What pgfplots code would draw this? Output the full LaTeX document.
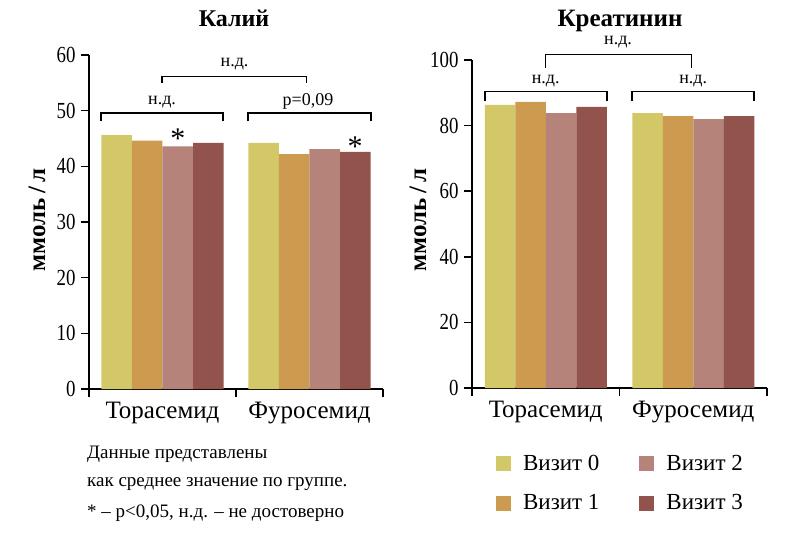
\documentclass[border=0pt]{standalone}
\usepackage{fontspec}
\setmainfont{Liberation Serif}
\newfontfamily\condfont[FakeStretch=0.82]{Liberation Serif}
\usepackage{pgfplots}
\pgfplotsset{compat=1.18}
\definecolor{v0}{RGB}{211,200,104}
\definecolor{v1}{RGB}{205,155,80}
\definecolor{v2}{RGB}{181,131,122}
\definecolor{v3}{RGB}{145,83,75}
\pgfplotsset{
  mybar/.style={
    scale only axis, ybar=0pt, bar width=30.5pt,
    xmin=0, xmax=2, ymin=0, clip=false,
    axis x line*=bottom, axis y line*=left,
    axis line style={line width=1.6pt, black},
    major tick style={line width=1.6pt, black},
    tick align=outside, major tick length=8pt,
    xtick={0,1,2}, xticklabels={},
    extra x ticks={0.5,1.5},
    extra x tick labels={Торасемид,Фуросемид},
    extra x tick style={major tick length=0pt,
      tick label style={font=\fontsize{25}{25}\selectfont, yshift=-10pt}},
    yticklabel style={font=\condfont\fontsize{23}{23}\selectfont, xshift=-2pt},
    /pgf/number format/assume math mode=true,
    ylabel={ммоль\,/\,л},
    every axis plot post/.append style={draw=none,
      legend image code/.code={\path[##1,draw=none] (0pt,-7.5pt) rectangle (15pt,7.5pt);}},
  }
}
\begin{document}
\begin{tikzpicture}
\path[use as bounding box] (0pt,0pt) rectangle (804pt,-533pt);
% ---------- Kalium ----------
\begin{axis}[mybar, width=294pt, height=334pt, at={(89pt,-389pt)}, anchor=south west,
  ymax=60, ytick={0,10,...,60},
  ylabel style={font=\bfseries\fontsize{25}{25}\selectfont, at={(axis description cs:-0.177,0.506)}, anchor=center, rotate=0}]
\addplot[fill=v0] coordinates {(0.5,45.6) (1.5,44.2)};
\addplot[fill=v1] coordinates {(0.5,44.6) (1.5,42.2)};
\addplot[fill=v2] coordinates {(0.5,43.6) (1.5,43.1)};
\addplot[fill=v3] coordinates {(0.5,44.2) (1.5,42.6)};
\draw[line width=1.3pt] (axis cs:0.082,48.1) -- (axis cs:0.082,49.6) -- (axis cs:0.912,49.6) -- (axis cs:0.912,48.1);
\draw[line width=1.3pt] (axis cs:1.082,48.1) -- (axis cs:1.082,49.6) -- (axis cs:1.918,49.6) -- (axis cs:1.918,48.1);
\draw[line width=1.3pt] (axis cs:0.497,54.9) -- (axis cs:0.497,56.2) -- (axis cs:1.48,56.2) -- (axis cs:1.48,54.9);
\node[font=\fontsize{18}{18}\selectfont] at (axis cs:0.497,51.6) {н.д.};
\node[font=\fontsize{18}{18}\selectfont] at (axis cs:1.49,51.6) {p=0,09};
\node[font=\fontsize{18}{18}\selectfont] at (axis cs:0.99,58.4) {н.д.};
\node[font=\fontsize{30}{30}\selectfont, anchor=base] at (axis cs:0.604,43.2) {*};
\node[font=\fontsize{30}{30}\selectfont, anchor=base] at (axis cs:1.81,41.7) {*};
\end{axis}
% ---------- Creatinine ----------
\begin{axis}[mybar, width=295pt, height=328pt, at={(472pt,-388pt)}, anchor=south west,
  ymax=100, ytick={0,20,...,100},
  ylabel style={font=\bfseries\fontsize{25}{25}\selectfont, at={(axis description cs:-0.183,0.512)}, anchor=center, rotate=0},
  legend columns=2, transpose legend,
  legend style={draw=none, fill=none, font=\fontsize{23}{23}\selectfont,
    at={(axis description cs:0.071,-0.191)}, anchor=north west,
    row sep=19pt,
    /tikz/every odd column/.append style={column sep=10pt},
    /tikz/every even column/.append style={column sep=38pt}}]
\addplot[fill=v0] coordinates {(0.5,86.3) (1.5,83.8)};
\addplot[fill=v1] coordinates {(0.5,87.2) (1.5,82.9)};
\addplot[fill=v2] coordinates {(0.5,83.8) (1.5,82.0)};
\addplot[fill=v3] coordinates {(0.5,85.7) (1.5,82.9)};
\legend{Визит 0,Визит 1,Визит 2,Визит 3}
\draw[line width=1.3pt] (axis cs:0.088,87.5) -- (axis cs:0.088,90.5) -- (axis cs:0.915,90.5) -- (axis cs:0.915,87.5);
\draw[line width=1.3pt] (axis cs:1.085,87.5) -- (axis cs:1.085,90.5) -- (axis cs:1.912,90.5) -- (axis cs:1.912,87.5);
\draw[line width=1.3pt] (axis cs:0.5,97.5) -- (axis cs:0.5,101.7) -- (axis cs:1.49,101.7) -- (axis cs:1.49,97.5);
\node[font=\fontsize{18}{18}\selectfont] at (axis cs:0.5,93.6) {н.д.};
\node[font=\fontsize{18}{18}\selectfont] at (axis cs:1.5,93.6) {н.д.};
\node[font=\fontsize{18}{18}\selectfont] at (axis cs:0.99,105.4) {н.д.};
\end{axis}
% titles
\node[font=\bfseries\fontsize{24}{24}\selectfont, anchor=base] at (234pt,-26pt) {Калий};
\node[font=\bfseries\fontsize{25}{25}\selectfont, anchor=base] at (620pt,-26pt) {Креатинин};
% note
\node[font=\fontsize{19}{19}\selectfont, anchor=base west, inner sep=0pt] at (87pt,-458pt) {Данные представлены};
\node[font=\fontsize{19}{19}\selectfont, anchor=base west, inner sep=0pt] at (87pt,-486pt) {как среднее значение по группе.};
\node[font=\fontsize{19}{19}\selectfont, anchor=base west, inner sep=0pt] at (87pt,-517pt) {* – p<0,05, н.д. – не достоверно};
\end{tikzpicture}
\end{document}
